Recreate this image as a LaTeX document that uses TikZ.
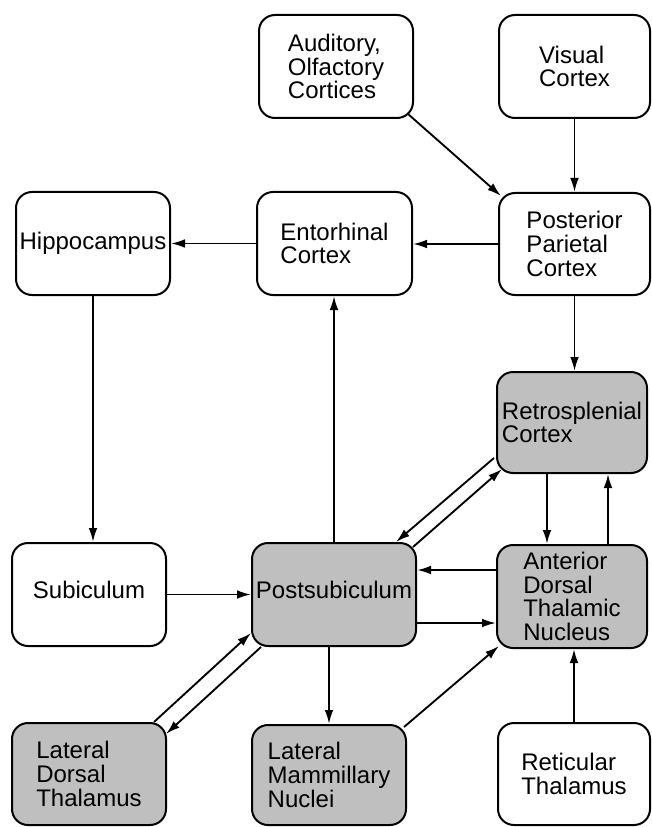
\documentclass[tikz,border=0pt]{standalone}
\usepackage{fontspec}
\setmainfont{Liberation Sans}
\usetikzlibrary{arrows.meta,calc}
\begin{document}
\begin{tikzpicture}[x=0.75pt,y=-0.75pt,
  box/.style={draw, line width=1.5pt, rounded corners=12pt, align=left, inner sep=0pt,
    font=\fontsize{18}{17.8}\selectfont},
  shaded/.style={box, fill=black!25},
  wh/.style 2 args={minimum width=#1*0.75pt, minimum height=#2*0.75pt},
  arr/.style={line width=1.4pt, -{Latex[length=10.5pt,width=6.5pt]}}]
\fill[white] (0,0) rectangle (652,827);
\useasboundingbox (0,0) rectangle (652,827);

\node[box,wh={154}{103}] (aud) at (336,66.5) {Auditory,\\Olfactory\\Cortices};
\node[box,wh={151}{103}] (vis) at (574.5,66.5) {Visual\\Cortex};
\node[box,wh={154}{103}] (hip) at (93,243.5) {Hippocampus};
\node[box,wh={155}{103}] (ent) at (334.5,243.5) {Entorhinal\\Cortex};
\node[box,wh={151}{102}] (ppc) at (574.5,244) {Posterior\\Parietal\\Cortex};
\node[shaded,wh={150}{101}] (rsp) at (572,422.5) {Retrosplenial\\Cortex};
\node[box,wh={154}{103},text depth=7pt] (sub) at (89,594.5) {Subiculum};
\node[shaded,wh={164}{103},text depth=7pt] (pos) at (334,594.5) {Postsubiculum};
\node[shaded,wh={150}{103}] (adn) at (572,596.5) {Anterior\\Dorsal\\Thalamic\\Nucleus};
\node[shaded,wh={154}{102}] (ldt) at (89,774) {Lateral\\Dorsal\\Thalamus};
\node[shaded,wh={154}{100}] (lmn) at (329,775) {Lateral\\Mammillary\\Nuclei};
\node[box,wh={152}{102}] (ret) at (574,774) {Reticular\\Thalamus};

% top part
\draw[arr] ($(aud.south east)+(-6,-5)$) -- ($(ppc.north west)+(3,4)$);
\draw[arr] (vis.south) -- (ppc.north);
\draw[arr] (ppc.west) -- (ppc.west -| ent.east);
\draw[arr] (ent.west) -- (ent.west -| hip.east);
\draw[arr] (hip.south) -- (hip.south |- sub.north);
\draw[arr] (ppc.south) -- (ppc.south |- rsp.north);
\draw[arr] (pos.north) -- (pos.north |- ent.south);

% retrosplenial / anterior dorsal
\draw[arr] ($(rsp.south)+(-25,0)$) -- ($(adn.north)+(-25,0)$);
\draw[arr] ($(adn.north)+(36,0)$) -- ($(rsp.south)+(36,0)$);
\draw[arr] ($(rsp.south west)+(-2,-16)$) -- ($(pos.north east)+(-21,0)$);
\draw[arr] ($(pos.north east)+(-4,5)$) -- ($(rsp.south west)+(6,-5)$);

% postsubiculum
\draw[arr] ($(adn.west)+(0,-26.5)$) -- ($(pos.east)+(0,-24.5)$);
\draw[arr] ($(pos.east)+(0,28.5)$) -- ($(adn.west)+(0,26.5)$);
\draw[arr] (sub.east) -- (pos.west);
\draw[arr] (pos.south -| lmn.north) -- (lmn.north);
\draw[arr] ($(ldt.north east)+(-13,0)$) -- ($(pos.south west)+(0,-14)$);
\draw[arr] ($(pos.south west)+(10,0)$) -- ($(ldt.north east)+(-1,12)$);

% bottom
\draw[arr] ($(lmn.north east)+(-3,3)$) -- ($(adn.south west)+(3,-3)$);
\draw[arr] (ret.north) -- (ret.north |- adn.south);
\end{tikzpicture}
\end{document}
